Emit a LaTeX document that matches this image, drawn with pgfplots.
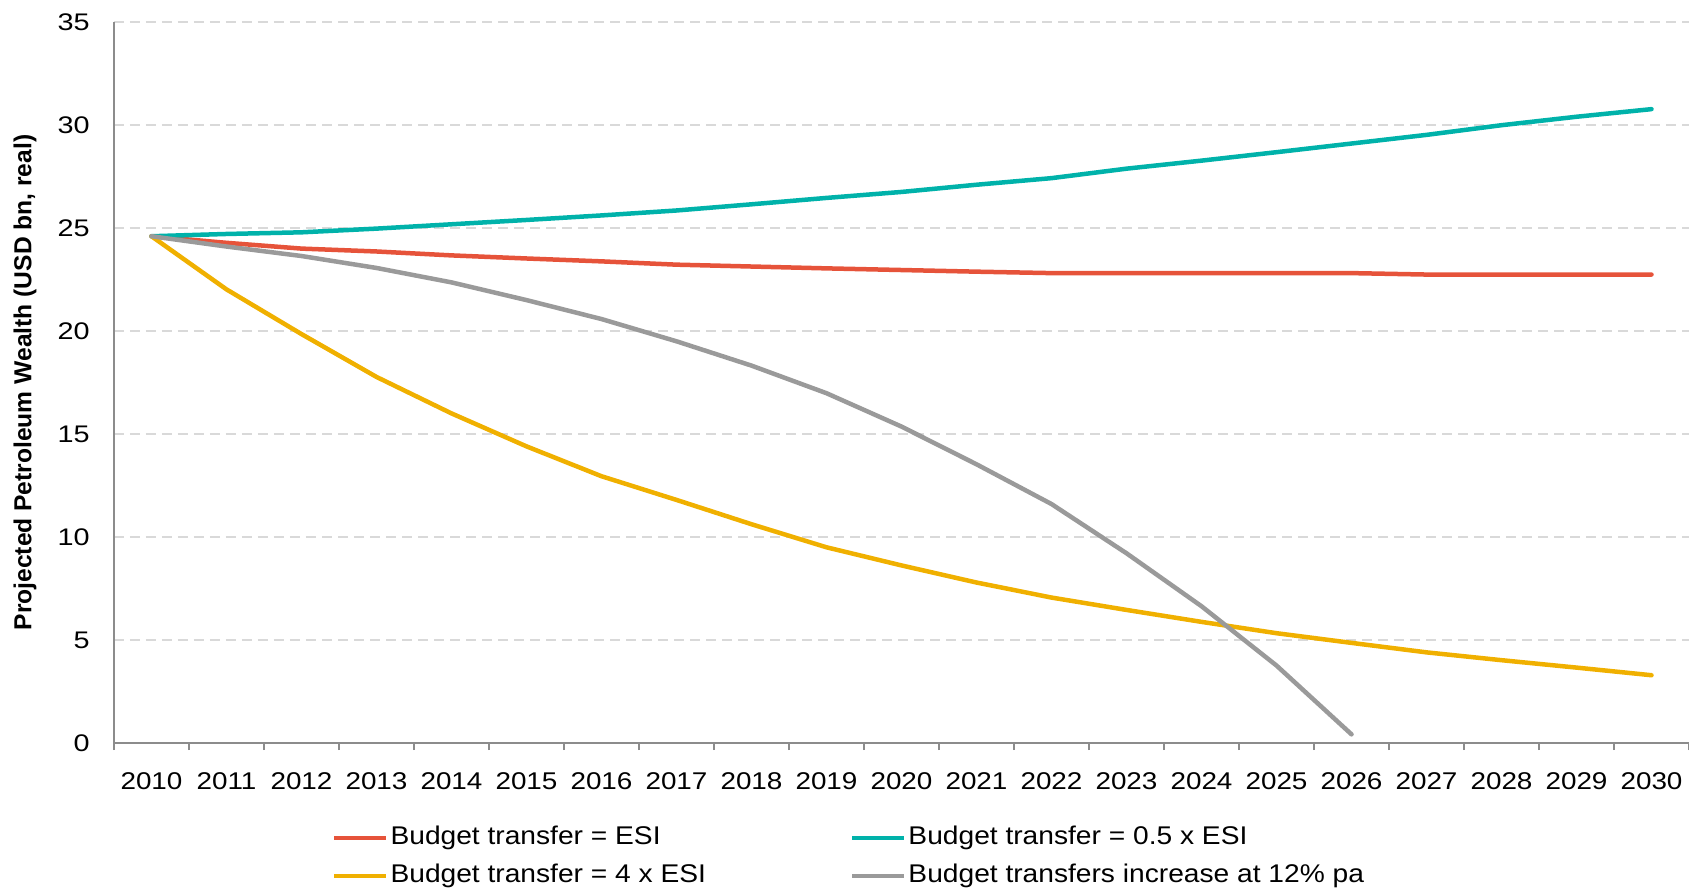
\documentclass[border=0pt]{standalone}
\usepackage{fontspec}
\setmainfont{Liberation Sans}
\newfontfamily\ytickfont[FakeStretch=1.2]{Liberation Sans}
\newfontfamily\xtickfont[FakeStretch=1.15]{Liberation Sans}
\newfontfamily\legfont[FakeStretch=1.1]{Liberation Sans}
\usepackage{pgfplots}
\pgfplotsset{compat=1.18}
\definecolor{cred}{HTML}{E6533A}
\definecolor{cteal}{HTML}{00B2AA}
\definecolor{cyellow}{HTML}{F0B000}
\definecolor{cgray}{HTML}{9A9A9A}
\definecolor{axisgray}{HTML}{8C8C8C}
\definecolor{gridgray}{HTML}{D9D9D9}
\begin{document}
\begin{tikzpicture}
\useasboundingbox (-57bp,-74bp) rectangle (787.5bp,371.5bp);
\begin{axis}[
  at={(0,0)}, anchor=south west,
  scale only axis, width=787.5bp, height=360.5bp,
  xmin=-0.5, xmax=20.5, ymin=0, ymax=35,
  clip=false,
  xtick={-0.5,0.5,...,20.5},
  xticklabels={2010,2011,2012,2013,2014,2015,2016,2017,2018,2019,2020,2021,2022,2023,2024,2025,2026,2027,2028,2029,2030},
  x tick label as interval,
  ytick={0,5,...,35},
  axis x line*=bottom, axis y line*=left,
  axis line style={draw=axisgray, line width=1bp},
  tick align=outside,
  major tick length=3.5bp,
  y tick style={draw=none},
  x tick style={draw=axisgray, line width=1bp},
  ymajorgrids,
  major grid style={draw=gridgray, line width=0.8bp, dash pattern=on 5bp off 3bp},
  /pgf/number format/assume math mode=true,
  yticklabel style={font=\ytickfont\fontsize{12bp}{14bp}\selectfont, anchor=east, inner sep=0pt, xshift=-8.5bp},
  xticklabel style={font=\xtickfont\fontsize{12.1bp}{14bp}\selectfont, anchor=north, inner sep=0pt, yshift=-11bp},
  ylabel={Projected Petroleum Wealth (USD bn, real)},
  every axis y label/.style={at={(axis description cs:-0.0565,0.5)}, rotate=90, anchor=center, font=\bfseries\fontsize{12.3bp}{14bp}\selectfont},
  legend columns=2,
  legend cell align=left,
  legend style={at={(axis description cs:0.13822,-0.1125)}, anchor=north west, draw=none, fill=none, inner sep=0pt,
    font=\legfont\fontsize{12.8bp}{15bp}\selectfont,
    nodes={inner sep=0pt, text height=10bp, text depth=3.5bp},
    row sep=5.5bp,
    /tikz/every odd column/.append style={column sep=1bp},
    /tikz/every even column/.append style={column sep=72bp}},
  legend image code/.code={\draw[#1, line cap=butt] (0bp,0bp) -- (26bp,0bp);},
  every axis plot/.append style={line width=2.25bp, line cap=round, line join=round, mark=none},
]
\addplot[cred] coordinates {
(0,24.6) (1,24.28) (2,24.0) (3,23.86) (4,23.67) (5,23.52) (6,23.38) (7,23.22) (8,23.13) (9,23.04) (10,22.96) (11,22.88) (12,22.81) (13,22.81) (14,22.81) (15,22.81) (16,22.81) (17,22.74) (18,22.74) (19,22.74) (20,22.74)};
\addlegendentry{Budget transfer = ESI}
\addplot[cteal] coordinates {
(0,24.6) (1,24.71) (2,24.79) (3,24.97) (4,25.18) (5,25.39) (6,25.61) (7,25.85) (8,26.15) (9,26.46) (10,26.75) (11,27.1) (12,27.42) (13,27.88) (14,28.27) (15,28.68) (16,29.1) (17,29.52) (18,29.99) (19,30.4) (20,30.77)};
\addlegendentry{Budget transfer = 0.5 x ESI}
\addplot[cyellow] coordinates {
(0,24.6) (1,22.02) (2,19.85) (3,17.77) (4,16.0) (5,14.4) (6,12.95) (7,11.8) (8,10.62) (9,9.5) (10,8.62) (11,7.79) (12,7.06) (13,6.46) (14,5.88) (15,5.33) (16,4.86) (17,4.4) (18,4.02) (19,3.66) (20,3.29)};
\addlegendentry{Budget transfer = 4 x ESI}
\addplot[cgray] coordinates {
(0,24.6) (1,24.1) (2,23.64) (3,23.06) (4,22.36) (5,21.5) (6,20.58) (7,19.5) (8,18.32) (9,16.98) (10,15.36) (11,13.53) (12,11.6) (13,9.21) (14,6.64) (15,3.76) (16,0.42)};
\addlegendentry{Budget transfers increase at 12\% pa}
\end{axis}
\end{tikzpicture}
\end{document}
